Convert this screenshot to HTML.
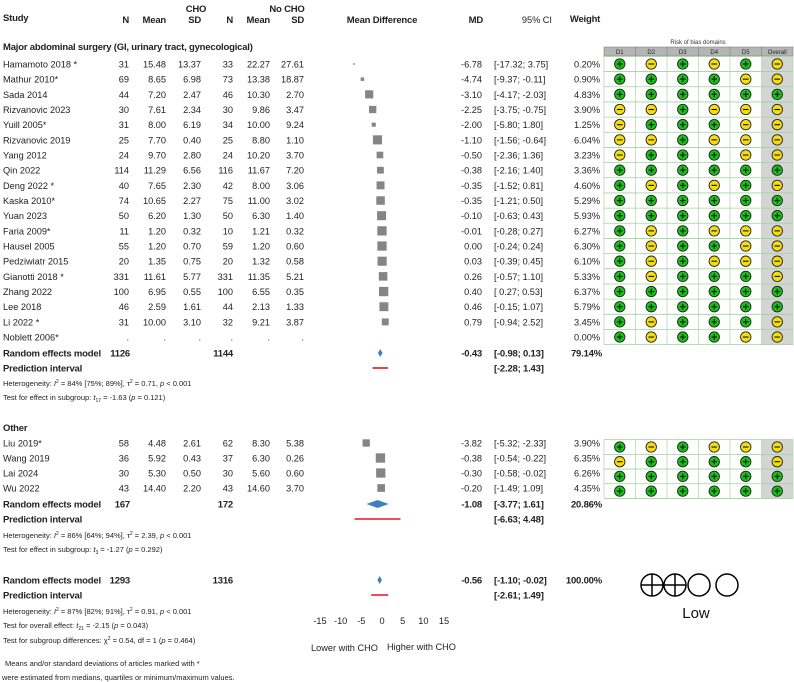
<!DOCTYPE html>
<html><head><meta charset="utf-8"><style>
html,body{margin:0;padding:0;background:#fff;}
svg{display:block;font-family:"Liberation Sans",sans-serif;}
.t{font-size:9.2px;fill:#222;}
.b{font-size:9.5px;font-weight:bold;fill:#222;letter-spacing:-0.2px;}
.s{font-size:7.5px;fill:#222;}
</style></head><body>
<svg id="chart" width="794" height="682" viewBox="0 0 794 682">
<g id="hdr">
<text class="b" x="196" y="12" text-anchor="middle">CHO</text>
<text class="b" x="287" y="12" text-anchor="middle">No CHO</text>
<text class="b" x="3" y="21">Study</text>
<text class="b" x="129" y="23" text-anchor="end">N</text>
<text class="b" x="166" y="23" text-anchor="end">Mean</text>
<text class="b" x="201" y="23" text-anchor="end">SD</text>
<text class="b" x="233" y="23" text-anchor="end">N</text>
<text class="b" x="270" y="23" text-anchor="end">Mean</text>
<text class="b" x="304" y="23" text-anchor="end">SD</text>
<text class="b" x="382" y="23" text-anchor="middle">Mean Difference</text>
<text class="b" x="483" y="23" text-anchor="end">MD</text>
<text class="t" x="552" y="23" text-anchor="end">95% CI</text>
<text class="b" x="585" y="22" text-anchor="middle">Weight</text>
<text class="b" x="3" y="50">Major abdominal surgery (GI, urinary tract, gynecological)</text>
</g>
<g id="rows"></g>
<g id="rob"></g>
<g id="foot">
<text class="s" x="3" y="386">Heterogeneity: <tspan font-style="italic">I</tspan><tspan dy="-3" font-size="5">2</tspan><tspan dy="3"> = 84% [75%; 89%], τ</tspan><tspan dy="-3" font-size="5">2</tspan><tspan dy="3"> = 0.71, </tspan><tspan font-style="italic">p</tspan> &lt; 0.001</text>
<text class="s" x="3" y="400">Test for effect in subgroup: <tspan font-style="italic">t</tspan><tspan dy="2" font-size="5">17</tspan><tspan dy="-2"> = -1.63 (</tspan><tspan font-style="italic">p</tspan> = 0.121)</text>
<text class="b" x="3" y="431">Other</text>
<text class="s" x="3" y="538">Heterogeneity: <tspan font-style="italic">I</tspan><tspan dy="-3" font-size="5">2</tspan><tspan dy="3"> = 86% [64%; 94%], τ</tspan><tspan dy="-3" font-size="5">2</tspan><tspan dy="3"> = 2.39, </tspan><tspan font-style="italic">p</tspan> &lt; 0.001</text>
<text class="s" x="3" y="552">Test for effect in subgroup: <tspan font-style="italic">t</tspan><tspan dy="2" font-size="5">3</tspan><tspan dy="-2"> = -1.27 (</tspan><tspan font-style="italic">p</tspan> = 0.292)</text>
<text class="s" x="3" y="614">Heterogeneity: <tspan font-style="italic">I</tspan><tspan dy="-3" font-size="5">2</tspan><tspan dy="3"> = 87% [82%; 91%], τ</tspan><tspan dy="-3" font-size="5">2</tspan><tspan dy="3"> = 0.91, </tspan><tspan font-style="italic">p</tspan> &lt; 0.001</text>
<text class="s" x="3" y="628">Test for overall effect: <tspan font-style="italic">t</tspan><tspan dy="2" font-size="5">21</tspan><tspan dy="-2"> = -2.15 (</tspan><tspan font-style="italic">p</tspan> = 0.043)</text>
<text class="s" x="3" y="643">Test for subgroup differences: χ<tspan dy="-3" font-size="5">2</tspan><tspan dy="3"> = 0.54, df = 1 (</tspan><tspan font-style="italic">p</tspan> = 0.464)</text>
<text class="s" x="5" y="666">Means and/or standard deviations of articles marked with *</text>
<text class="s" x="2" y="680">were estimated from medians, quartiles or minimum/maximum values.</text>
<text class="t" x="311" y="651">Lower with CHO</text>
<text class="t" x="387" y="650">Higher with CHO</text>
</g>
<g id="grade">
<circle cx="652" cy="585" r="11" fill="none" stroke="#000" stroke-width="1.5"/>
<line x1="641" y1="585" x2="663" y2="585" stroke="#000" stroke-width="1.5"/><line x1="652" y1="574" x2="652" y2="596" stroke="#000" stroke-width="1.5"/>
<circle cx="675" cy="585" r="11" fill="none" stroke="#000" stroke-width="1.5"/>
<line x1="664" y1="585" x2="686" y2="585" stroke="#000" stroke-width="1.5"/><line x1="675" y1="574" x2="675" y2="596" stroke="#000" stroke-width="1.5"/>
<circle cx="699" cy="585" r="11" fill="none" stroke="#000" stroke-width="1.5"/>
<circle cx="727" cy="585" r="11" fill="none" stroke="#000" stroke-width="1.5"/>
<text x="696" y="618" font-size="15" text-anchor="middle" fill="#111">Low</text>
</g>
</svg>
<script>
const studies1 = ["Hamamoto 2018 *","Mathur 2010*","Sada 2014","Rizvanovic 2023","Yuill 2005*","Rizvanovic 2019","Yang 2012","Qin 2022","Deng 2022 *","Kaska 2010*","Yuan 2023","Faria 2009*","Hausel 2005","Pedziwiatr 2015","Gianotti 2018 *","Zhang 2022","Lee  2018","Li 2022 *","Noblett 2006*"];
const n1 = ["31","69","44","30","31","25","24","114","40","74","50","11","55","20","331","100","46","31","."];
const mean1 = ["15.48","8.65","7.20","7.61","8.00","7.70","9.70","11.29","7.65","10.65","6.20","1.20","1.20","1.35","11.61","6.95","2.59","10.00","."];
const sd1 = ["13.37","6.98","2.47","2.34","6.19","0.40","2.80","6.56","2.30","2.27","1.30","0.32","0.70","0.75","5.77","0.55","1.61","3.10","."];
const n2 = ["33","73","46","30","34","25","24","116","42","75","50","10","59","20","331","100","44","32","."];
const mean2 = ["22.27","13.38","10.30","9.86","10.00","8.80","10.20","11.67","8.00","11.00","6.30","1.21","1.20","1.32","11.35","6.55","2.13","9.21","."];
const sd2 = ["27.61","18.87","2.70","3.47","9.24","1.10","3.70","7.20","3.06","3.02","1.40","0.32","0.60","0.58","5.21","0.35","1.33","3.87","."];
const md1 = [-6.78,-4.74,-3.10,-2.25,-2.00,-1.10,-0.50,-0.38,-0.35,-0.35,-0.10,-0.01,0.00,0.03,0.26,0.40,0.46,0.79,null];
const lo1 = [-17.32,-9.37,-4.17,-3.75,-5.80,-1.56,-2.36,-2.16,-1.52,-1.21,-0.63,-0.28,-0.24,-0.39,-0.57,0.27,-0.15,-0.94,null];
const hi1 = [3.75,-0.11,-2.03,-0.75,1.80,-0.64,1.36,1.40,0.81,0.50,0.43,0.27,0.24,0.45,1.10,0.53,1.07,2.52,null];
const w1 = [0.20,0.90,4.83,3.90,1.25,6.04,3.23,3.36,4.60,5.29,5.93,6.27,6.30,6.10,5.33,6.37,5.79,3.45,0.00];
const rob1 = ["+-+-+-","++++--","++++++","--+---","-+++--","--+---","-+++--","++++++","+-+-+-","++++++","++++++","+-+---","+-++--","+-+---","+-+++-","++++++","++++++","+-+++-","+-++--"];

const studies2 = ["Liu 2019*","Wang 2019","Lai 2024","Wu 2022"];
const n2a = ["58","36","30","43"], mean2a = ["4.48","5.92","5.30","14.40"], sd2a = ["2.61","0.43","0.50","2.20"];
const n2b = ["62","37","30","43"], mean2b = ["8.30","6.30","5.60","14.60"], sd2b = ["5.38","0.26","0.60","3.70"];
const md2 = [-3.82,-0.38,-0.30,-0.20];
const lo2 = [-5.32,-0.54,-0.58,-1.49];
const hi2 = [-2.33,-0.22,-0.02,1.09];
const w2 = [3.90,6.35,6.26,4.35];
const rob2 = ["+-+---","-++++-","++++++","++++++"];

const pooled1 = [-0.43,-0.98,0.13,-2.28,1.43,"79.14%","1126","1144"];
const pooled2 = [-1.08,-3.77,1.61,-6.63,4.48,"20.86%","167","172"];
const pooledAll = [-0.56,-1.10,-0.02,-2.61,1.49,"100.00%","1293","1316"];
const ticks = [-15,-10,-5,0,5,10,15];

const NS="http://www.w3.org/2000/svg";
const X0=382, SC=62/15;
function xs(v){return X0+v*SC;}
function fmt(v){return v.toFixed(2);}
function ci(l,h){return "["+(l<0?"":" ")+fmt(l)+"; "+(h<0?"":" ")+fmt(h)+"]";}
function mk(tag,attrs,parent,txt){const e=document.createElementNS(NS,tag);for(const k in attrs)e.setAttribute(k,attrs[k]);if(txt!==undefined)e.textContent=txt;parent.appendChild(e);return e;}
const rows=document.getElementById('rows'), rob=document.getElementById('rob');

function studyRow(y,name,a,b,c,d,e,f,md,lo,hi,w,i){
  const g=mk('g',{},rows);
  
  
  mk('text',{class:'t',x:3,y:y+3.5},g,name);
  [[a,129],[b,166],[c,201],[d,233],[e,270],[f,304]].forEach(p=>mk('text',{class:'t',x:p[1],y:y+3.5,'text-anchor':'end'},g,p[0]));
  if(md!==null){
    mk('text',{class:'t',x:482,y:y+3.5,'text-anchor':'end'},g,fmt(md));
    mk('text',{class:'t',x:494,y:y+3.5},g,ci(lo,hi));
    const s=Math.max(1.5,Math.sqrt(w)*3.7);
    const r=mk('rect',{x:xs(md)-s/2,y:y-s/2,width:s,height:s,fill:'#858585'},g);
    
    
  }
  mk('text',{class:'t',x:600,y:y+3.5,'text-anchor':'end'},g,w.toFixed(2)+"%");
}
function pooledRow(y,p){
  const g=mk('g',{},rows);
  
  
  mk('text',{class:'b',x:3,y:y+3.5},g,"Random effects model");
  mk('text',{class:'b',x:130,y:y+3.5,'text-anchor':'end'},g,p[6]);
  mk('text',{class:'b',x:233,y:y+3.5,'text-anchor':'end'},g,p[7]);
  mk('text',{class:'b',x:482,y:y+3.5,'text-anchor':'end'},g,fmt(p[0]));
  mk('text',{class:'b',x:494,y:y+3.5},g,ci(p[1],p[2]));
  mk('text',{class:'b',x:602,y:y+3.5,'text-anchor':'end'},g,p[5]);
  const d=mk('polygon',{points:`${xs(p[1])},${y} ${xs(p[0])},${y-4} ${xs(p[2])},${y} ${xs(p[0])},${y+4}`,fill:'#3f7fc0'},g);
  
  
  const g2=mk('g',{},rows);
  
  
  const yy=y+15;
  mk('text',{class:'b',x:3,y:yy+3.5},g2,"Prediction interval");
  mk('text',{class:'b',x:494,y:yy+3.5},g2,ci(p[3],p[4]));
  const l=mk('line',{x1:xs(p[3]),x2:xs(p[4]),y1:yy,y2:yy,stroke:'#e8141c','stroke-width':1.6},g2);
  
  
}
function robGrid(y0,h,codes,header){
  const cx=[604,635.5,667,698.5,730,761.5,793];
  const g=mk('g',{},rob);
  
  
  if(header){
    mk('text',{x:698,y:44,'font-size':6,'text-anchor':'middle',fill:'#333'},g,"Risk of bias domains");
    mk('rect',{x:604,y:47,width:189,height:9,fill:'#b5b5b5',stroke:'#777','stroke-width':0.5},g);
    ["D1","D2","D3","D4","D5","Overall"].forEach((t,j)=>mk('text',{x:(cx[j]+cx[j+1])/2,y:54,'font-size':6,'text-anchor':'middle',fill:'#222'},g,t));
    for(let j=1;j<6;j++)mk('line',{x1:cx[j],x2:cx[j],y1:47,y2:56,stroke:'#777','stroke-width':0.5},g);
  }
  const top=y0-h/2, H=h*codes.length;
  mk('rect',{x:761.5,y:top,width:31.5,height:H,fill:'#d4d4d4'},g);
  for(let j=0;j<7;j++)mk('line',{x1:cx[j],x2:cx[j],y1:top,y2:top+H,stroke:'#b8d8b0','stroke-width':0.8},g);
  for(let i=0;i<=codes.length;i++)mk('line',{x1:604,x2:793,y1:top+i*h,y2:top+i*h,stroke:'#9fd49a','stroke-width':0.8},g);
  codes.forEach((c,i)=>{
    const y=y0+i*h;
    for(let j=0;j<6;j++){
      const plus=c[j]==='+', x=(cx[j]+cx[j+1])/2;
      const cg=mk('g',{},g);
      
      
      mk('circle',{cx:x,cy:y,r:5.2,fill:plus?'#16c216':'#f2de10',stroke:'#222','stroke-width':0.9},cg);
      mk('line',{x1:x-2.8,x2:x+2.8,y1:y,y2:y,stroke:'#111','stroke-width':1.1},cg);
      if(plus)mk('line',{x1:x,x2:x,y1:y-2.8,y2:y+2.8,stroke:'#111','stroke-width':1.1},cg);
    }
  });
}
const H1=15.17;
studies1.forEach((s,i)=>studyRow(64+i*H1,s,n1[i],mean1[i],sd1[i],n2[i],mean2[i],sd2[i],md1[i],lo1[i],hi1[i],w1[i],i));
pooledRow(353,pooled1);
robGrid(64,H1,rob1,true);
studies2.forEach((s,i)=>studyRow(443+i*15,s,n2a[i],mean2a[i],sd2a[i],n2b[i],mean2b[i],sd2b[i],md2[i],lo2[i],hi2[i],w2[i],i));
pooledRow(504,pooled2);
robGrid(447,14.7,rob2,false);
pooledRow(580,pooledAll);
const ax=mk('g',{},rows);


ticks.forEach(t=>{const e=mk('text',{class:'t',x:xs(t),y:624,'text-anchor':'middle'},ax,String(t));

});
</script>
</body></html>
